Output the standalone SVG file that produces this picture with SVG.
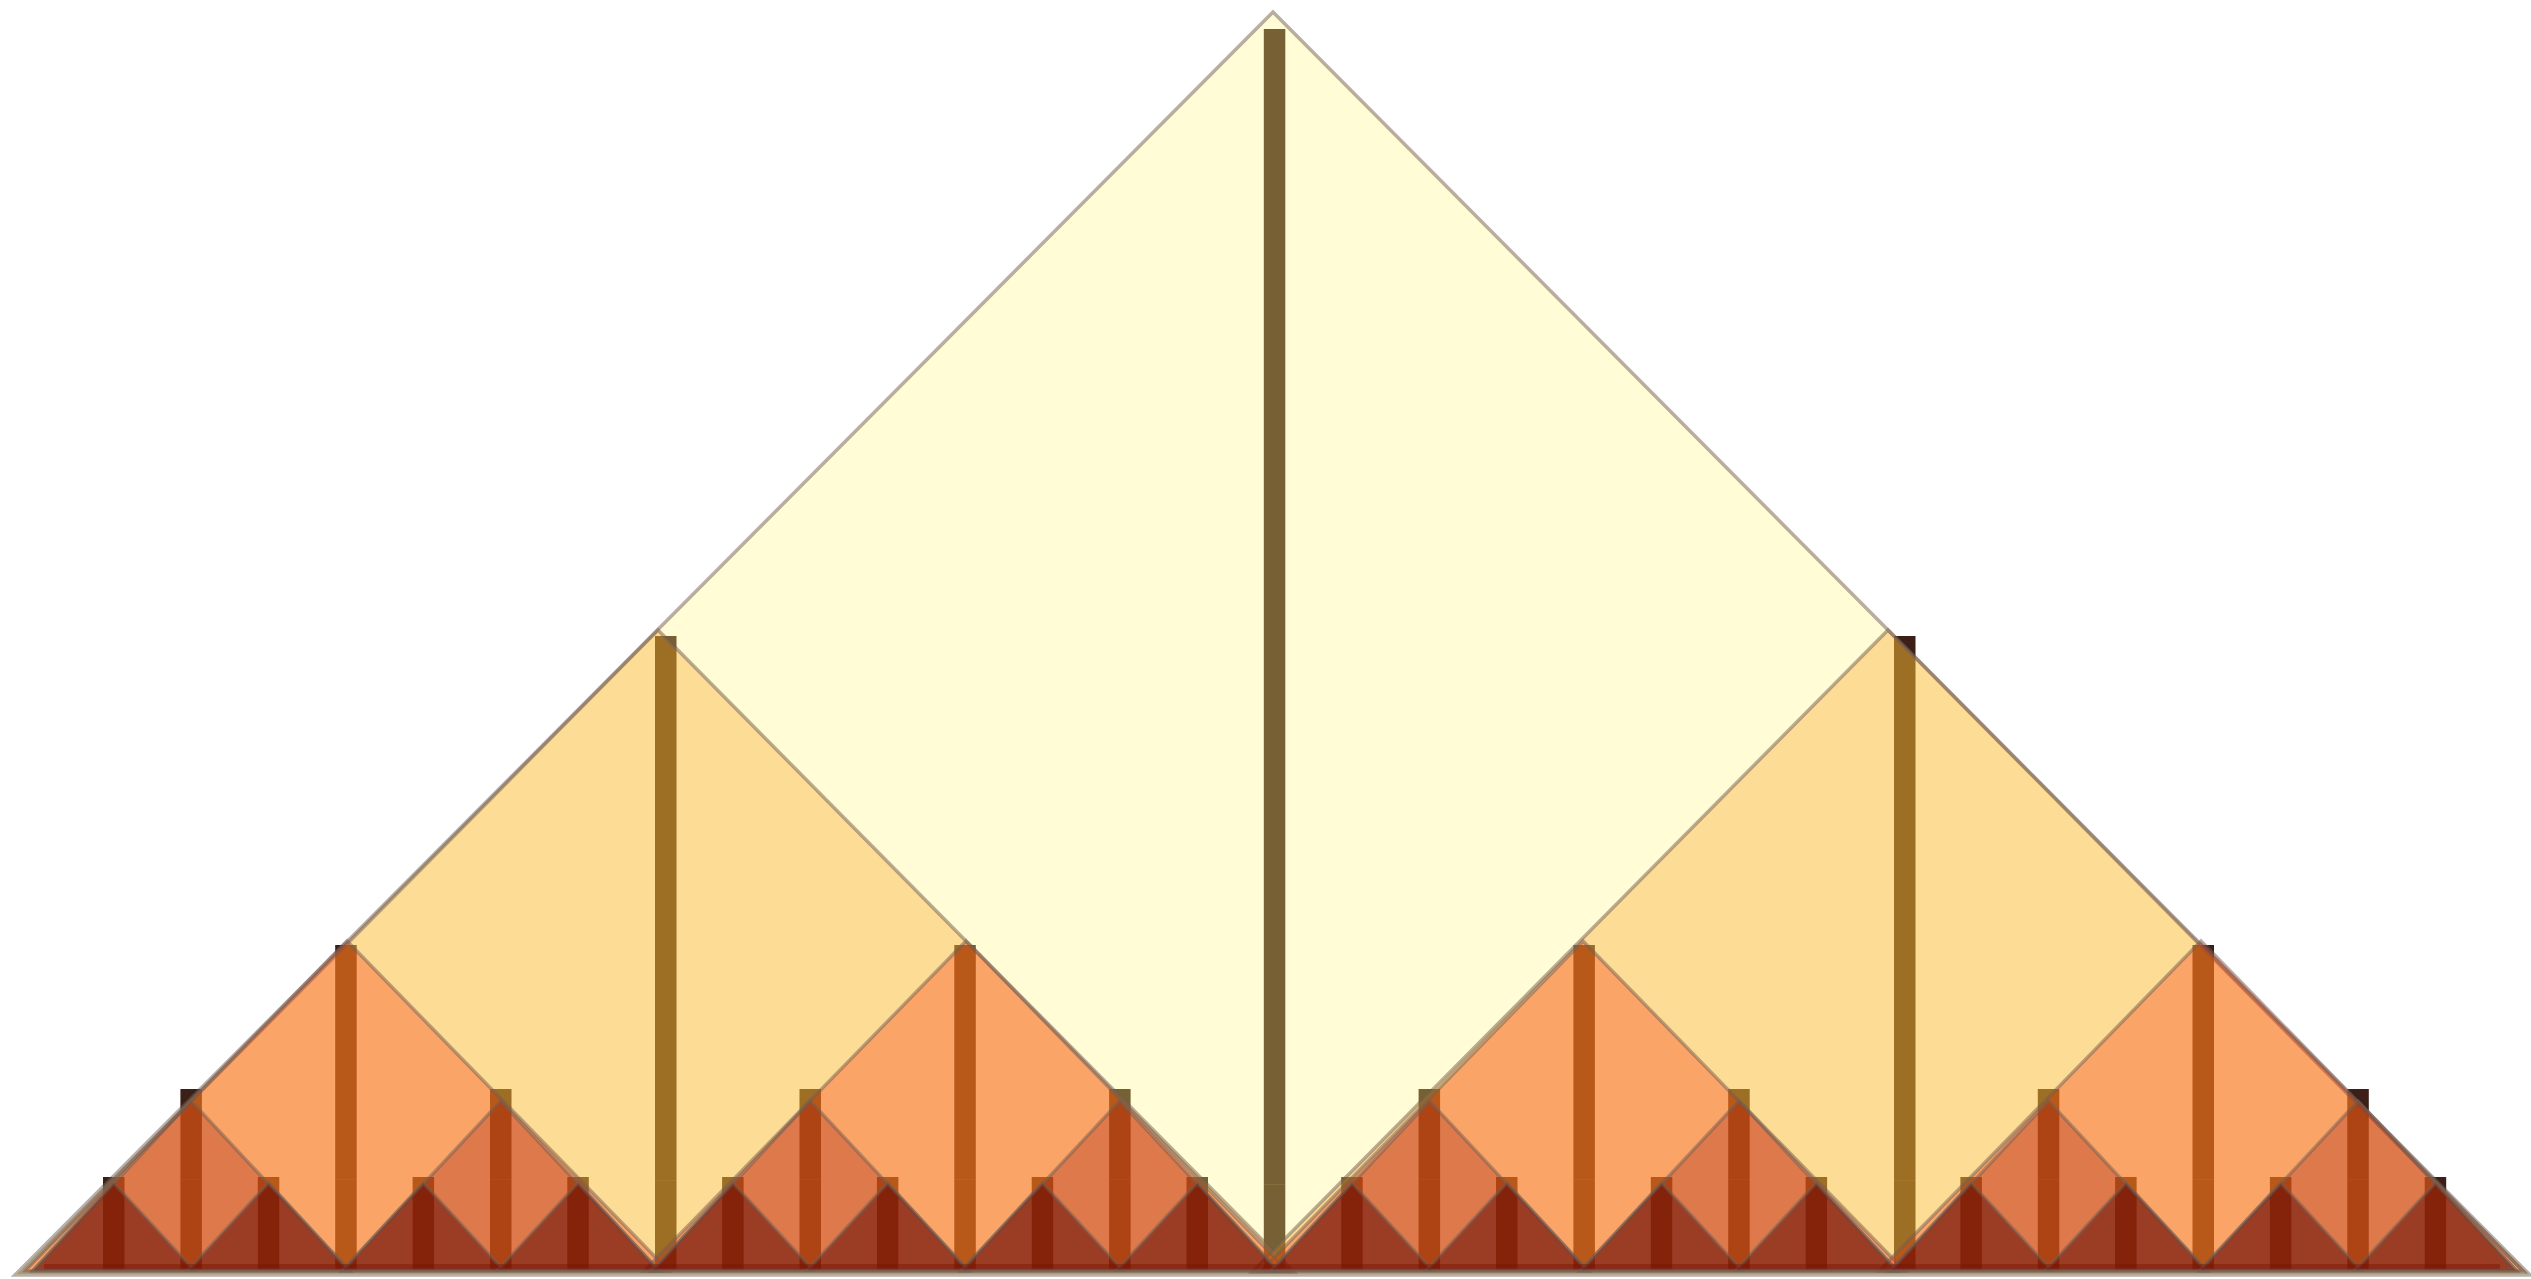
<svg xmlns="http://www.w3.org/2000/svg" width="2531" height="1279" viewBox="0 0 2531 1279">
<style>
.bar{fill:#3c2018}
.seam{fill:#ffb070;fill-opacity:0.12}
polygon{stroke:#735e52;stroke-opacity:0.5;stroke-width:3.5}
.l1{fill:#fff576;fill-opacity:0.3}
.l2{fill:#f89100;fill-opacity:0.3}
.l3{fill:#fa2400;fill-opacity:0.3}
.l4{fill:#981609;fill-opacity:0.3}
.l5{fill:#5a0200;fill-opacity:0.5}
</style>
<rect width="2531" height="1279" fill="#ffffff"/>
<g id="bars">
<rect class="bar" x="1263.8" y="29" width="21.5" height="1241"/>
<rect class="bar" x="655" y="636" width="21.5" height="634"/>
<rect class="bar" x="1894" y="636" width="21.5" height="634"/>
<rect class="bar" x="335.2" y="945" width="21.5" height="325"/>
<rect class="bar" x="954.3" y="945" width="21.5" height="325"/>
<rect class="bar" x="1573.4" y="945" width="21.5" height="325"/>
<rect class="bar" x="2192.5" y="945" width="21.5" height="325"/>
<rect class="bar" x="180.4" y="1089" width="21.5" height="181"/>
<rect class="bar" x="490.0" y="1089" width="21.5" height="181"/>
<rect class="bar" x="799.5" y="1089" width="21.5" height="181"/>
<rect class="bar" x="1109.1" y="1089" width="21.5" height="181"/>
<rect class="bar" x="1418.6" y="1089" width="21.5" height="181"/>
<rect class="bar" x="1728.2" y="1089" width="21.5" height="181"/>
<rect class="bar" x="2037.8" y="1089" width="21.5" height="181"/>
<rect class="bar" x="2347.3" y="1089" width="21.5" height="181"/>
<rect class="bar" x="103.0" y="1177" width="21.5" height="93"/>
<rect class="bar" x="257.8" y="1177" width="21.5" height="93"/>
<rect class="bar" x="412.6" y="1177" width="21.5" height="93"/>
<rect class="bar" x="567.3" y="1177" width="21.5" height="93"/>
<rect class="bar" x="722.1" y="1177" width="21.5" height="93"/>
<rect class="bar" x="876.9" y="1177" width="21.5" height="93"/>
<rect class="bar" x="1031.7" y="1177" width="21.5" height="93"/>
<rect class="bar" x="1186.5" y="1177" width="21.5" height="93"/>
<rect class="bar" x="1341.2" y="1177" width="21.5" height="93"/>
<rect class="bar" x="1496.0" y="1177" width="21.5" height="93"/>
<rect class="bar" x="1650.8" y="1177" width="21.5" height="93"/>
<rect class="bar" x="1805.6" y="1177" width="21.5" height="93"/>
<rect class="bar" x="1960.4" y="1177" width="21.5" height="93"/>
<rect class="bar" x="2115.1" y="1177" width="21.5" height="93"/>
<rect class="bar" x="2269.9" y="1177" width="21.5" height="93"/>
<rect class="bar" x="2424.7" y="1177" width="21.5" height="93"/>
<rect class="seam" x="1263.8" y="1184" width="21.5" height="1"/>
<rect class="seam" x="655" y="1180" width="21.5" height="1"/>
<rect class="seam" x="1894" y="1180" width="21.5" height="1"/>
<rect class="seam" x="335.2" y="1179" width="21.5" height="1"/>
<rect class="seam" x="954.3" y="1179" width="21.5" height="1"/>
<rect class="seam" x="1573.4" y="1179" width="21.5" height="1"/>
<rect class="seam" x="2192.5" y="1179" width="21.5" height="1"/>
<rect class="seam" x="180.4" y="1179" width="21.5" height="1"/>
<rect class="seam" x="490.0" y="1179" width="21.5" height="1"/>
<rect class="seam" x="799.5" y="1179" width="21.5" height="1"/>
<rect class="seam" x="1109.1" y="1179" width="21.5" height="1"/>
<rect class="seam" x="1418.6" y="1179" width="21.5" height="1"/>
<rect class="seam" x="1728.2" y="1179" width="21.5" height="1"/>
<rect class="seam" x="2037.8" y="1179" width="21.5" height="1"/>
<rect class="seam" x="2347.3" y="1179" width="21.5" height="1"/>
</g>
<g id="level1">
<polygon id="t1" class="l1" points="15,1275 1273,12 2530,1275"/>
</g>
<g id="level2">
<polygon id="t2a" class="l2" points="22,1272 658,630 1294,1272"/>
<polygon id="t2b" class="l2" points="1252,1272 1888,630 2524,1272"/>
</g>
<g id="level3">
<polygon id="t3a" class="l3" points="25,1271 347,941 669,1271"/>
<polygon id="t3b" class="l3" points="644,1271 966,941 1288,1271"/>
<polygon id="t3c" class="l3" points="1261,1271 1583,941 1905,1271"/>
<polygon id="t3d" class="l3" points="1879,1271 2201,941 2523,1271"/>
</g>
<g id="level4">
<polygon id="t4a" class="l4" points="32.5,1271 191.1,1101 349.7,1271"/>
<polygon id="t4b" class="l4" points="342.1,1271 500.7,1101 659.3,1271"/>
<polygon id="t4c" class="l4" points="651.7,1271 810.3,1101 968.9,1271"/>
<polygon id="t4d" class="l4" points="961.2,1271 1119.8,1101 1278.4,1271"/>
<polygon id="t4e" class="l4" points="1270.8,1271 1429.4,1101 1588,1271"/>
<polygon id="t4f" class="l4" points="1580.3,1271 1738.9,1101 1897.5,1271"/>
<polygon id="t4g" class="l4" points="1889.9,1271 2048.5,1101 2207.1,1271"/>
<polygon id="t4h" class="l4" points="2199.5,1271 2358.1,1101 2516.7,1271"/>
</g>
<g id="level5">
<polygon id="t5a" class="l5" points="33.8,1270 113.8,1183 193.8,1270"/>
<polygon id="t5b" class="l5" points="188.5,1270 268.5,1183 348.5,1270"/>
<polygon id="t5c" class="l5" points="343.3,1270 423.3,1183 503.3,1270"/>
<polygon id="t5d" class="l5" points="498.1,1270 578.1,1183 658.1,1270"/>
<polygon id="t5e" class="l5" points="652.9,1270 732.9,1183 812.9,1270"/>
<polygon id="t5f" class="l5" points="807.7,1270 887.7,1183 967.7,1270"/>
<polygon id="t5g" class="l5" points="962.4,1270 1042.4,1183 1122.4,1270"/>
<polygon id="t5h" class="l5" points="1117.2,1270 1197.2,1183 1277.2,1270"/>
<polygon id="t5i" class="l5" points="1272,1270 1352,1183 1432,1270"/>
<polygon id="t5j" class="l5" points="1426.8,1270 1506.8,1183 1586.8,1270"/>
<polygon id="t5k" class="l5" points="1581.6,1270 1661.6,1183 1741.6,1270"/>
<polygon id="t5l" class="l5" points="1736.3,1270 1816.3,1183 1896.3,1270"/>
<polygon id="t5m" class="l5" points="1891.1,1270 1971.1,1183 2051.1,1270"/>
<polygon id="t5n" class="l5" points="2045.9,1270 2125.9,1183 2205.9,1270"/>
<polygon id="t5o" class="l5" points="2200.7,1270 2280.7,1183 2360.7,1270"/>
<polygon id="t5p" class="l5" points="2355.5,1270 2435.5,1183 2515.5,1270"/>
</g>
<rect id="baseline" x="44" y="1264" width="2456" height="5" fill="#7a1505" fill-opacity="0.45"/>
</svg>
